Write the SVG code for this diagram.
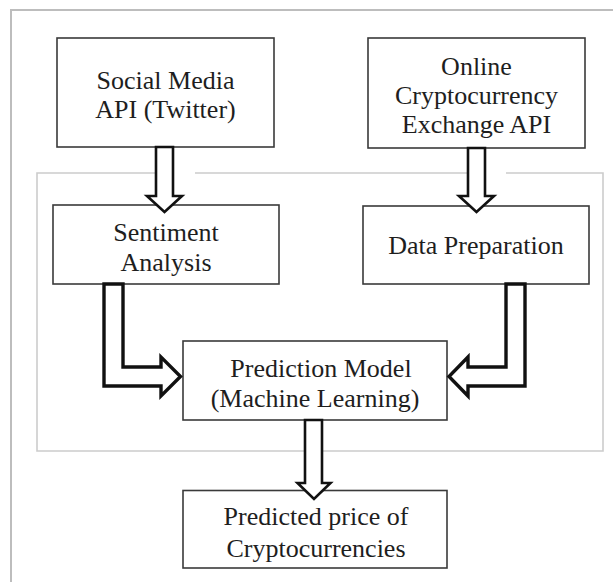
<svg xmlns="http://www.w3.org/2000/svg" width="613" height="582" viewBox="0 0 613 582">
<style>
.frame{fill:none;stroke:#bdbdbd;stroke-width:2}
.inner{fill:none;stroke:#cccccc;stroke-width:1.6}
.box{fill:#ffffff;stroke:#3a3a3a;stroke-width:1.6}
.lbl{font-family:"Liberation Serif","Times New Roman",serif;font-size:26px;fill:#1e1e1e;text-anchor:middle}
.arr{fill:#ffffff;stroke:#111111;stroke-width:2.6;stroke-linejoin:miter}
.arrb{fill:#ffffff;stroke:#111111;stroke-width:3.4;stroke-linejoin:miter}
</style>
<rect x="0" y="0" width="613" height="582" fill="#ffffff"/>
<!-- outer frame -->
<path class="frame" d="M11,582 V10 H613"/>
<!-- inner frame -->
<path class="inner" d="M156,173 H37 V451 H603 V173 H506 M470,173 H195"/>

<g id="social-media-api">
  <rect class="box" x="57" y="38" width="217" height="109"/>
  <text class="lbl" x="165.5" y="89">Social Media</text>
  <text class="lbl" x="165.5" y="118">API (Twitter)</text>
</g>
<g id="crypto-exchange-api">
  <rect class="box" x="368" y="38" width="217" height="110"/>
  <text class="lbl" x="476.5" y="75">Online</text>
  <text class="lbl" x="476.5" y="104">Cryptocurrency</text>
  <text class="lbl" x="476.5" y="133">Exchange API</text>
</g>
<g id="sentiment-analysis">
  <rect class="box" x="53" y="205" width="226" height="79"/>
  <text class="lbl" x="166" y="241">Sentiment</text>
  <text class="lbl" x="166" y="271">Analysis</text>
</g>
<g id="data-preparation">
  <rect class="box" x="363" y="206" width="226" height="78"/>
  <text class="lbl" x="476" y="254">Data Preparation</text>
</g>
<g id="prediction-model">
  <rect class="box" x="183" y="341" width="264" height="79"/>
  <text class="lbl" x="321" y="377">Prediction Model</text>
  <text class="lbl" x="315" y="407">(Machine Learning)</text>
</g>
<g id="predicted-price">
  <rect class="box" x="183" y="490.5" width="264" height="77.5"/>
  <text class="lbl" x="316" y="525">Predicted price of</text>
  <text class="lbl" x="316" y="556.5">Cryptocurrencies</text>
</g>

<g id="connectors">
  <polygon class="arr" points="156,147 173,147 173,196 182,196 164.5,212 147,196 156,196"/>
  <polygon class="arr" points="468,148 485,148 485,196 494,196 476.5,212 459,196 468,196"/>
  <polygon class="arrb" points="104,284 123,284 123,367 161,367 161,357 180.5,376.5 161,396 161,386 104,386"/>
  <polygon class="arrb" points="525,284 506,284 506,367 468,367 468,357 449,376.5 468,396 468,386 525,386"/>
  <polygon class="arr" points="305,420 322,420 322,483 330.5,483 314,499 297.5,483 305,483"/>
</g>
</svg>
